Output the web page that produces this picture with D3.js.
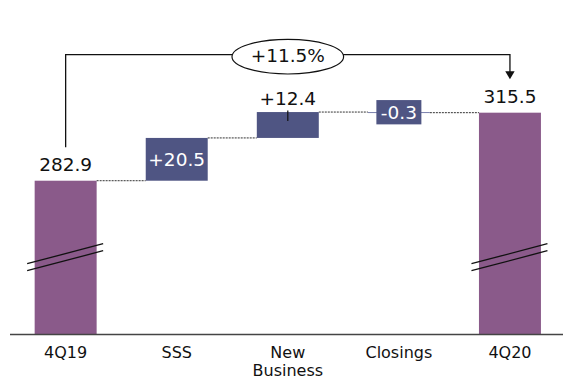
<!DOCTYPE html>
<html>
<head>
<meta charset="utf-8">
<script src="https://cdn.jsdelivr.net/npm/d3@7"></script>
<style>
  html, body { margin: 0; padding: 0; background: #ffffff; }
  svg { display: block; }
  text { font-family: "DejaVu Sans", sans-serif; }
</style>
</head>
<body>
<svg id="chart" width="563" height="381"></svg>
<script>
// ---- data ----
const categories = ["4Q19", "SSS", "New Business", "Closings", "4Q20"];
const values = [282.9, 20.5, 12.4, -0.3, 315.5];
const kinds = ["total", "delta", "delta", "delta", "total"];
const valueLabels = ["282.9", "+20.5", "+12.4", "-0.3", "315.5"];
const growthLabel = "+11.5%";
const axisFloor = 209.2;   // value at the (broken) baseline
const axisTop = 369.5;
const breakValue = 246;    // where the axis-break marks sit

// ---- layout ----
const W = 563, H = 381;
const baseY = 334.5;
const svg = d3.select("#chart");

const x = d3.scaleBand()
  .domain(categories)
  .range([10, 565.6])
  .paddingInner(0.442)
  .paddingOuter(0.222);

const y = d3.scaleLinear()
  .domain([axisFloor, axisTop])
  .range([baseY, 0]);

const PURPLE = "#8a5a8a";
const BLUE = "#4f5583";

// compute waterfall segments
let running = 0;
const bars = categories.map((c, i) => {
  let start, end;
  if (kinds[i] === "total") { start = axisFloor; end = values[i]; running = values[i]; }
  else { start = running; end = running + values[i]; running = end; }
  return { cat: c, start, end, kind: kinds[i], label: valueLabels[i], i };
});

// connectors (dotted)
const conn = svg.append("g");
for (let i = 0; i < bars.length - 1; i++) {
  const b = bars[i], nb = bars[i + 1];
  const level = b.end;
  conn.append("line")
    .attr("x1", x(b.cat) + x.bandwidth())
    .attr("x2", x(nb.cat))
    .attr("y1", y(level)).attr("y2", y(level))
    .attr("stroke", "#333").attr("stroke-width", 1)
    .attr("stroke-dasharray", "2,1");
}

// bars
svg.append("g").selectAll("rect")
  .data(bars)
  .join("rect")
  .attr("x", d => x(d.cat))
  .attr("width", x.bandwidth())
  .attr("y", d => y(Math.max(d.start, d.end)))
  .attr("height", d => Math.max(1, Math.abs(y(d.start) - y(d.end))))
  .attr("fill", d => d.kind === "total" ? PURPLE : (Math.abs(y(d.start) - y(d.end)) < 2 ? "#7a80ac" : BLUE));

// break marks on total bars
bars.filter(d => d.kind === "total").forEach(d => {
  const yb = y(breakValue);
  const x0 = x(d.cat) - 7.5, x1 = x(d.cat) + x.bandwidth() + 6.5;
  [0, 7].forEach(off => {
    svg.append("line")
      .attr("x1", x0).attr("y1", yb + 6 + off)
      .attr("x2", x1).attr("y2", yb - 14 + off)
      .attr("stroke", "#111").attr("stroke-width", 1.3);
  });
});

// axis baseline
svg.append("line")
  .attr("x1", 10).attr("x2", W)
  .attr("y1", baseY).attr("y2", baseY)
  .attr("stroke", "#444").attr("stroke-width", 1.3);

// category labels
const catG = svg.append("g");
categories.forEach(c => {
  const words = c === "New Business" ? ["New", "Business"] : [c];
  const t = catG.append("text")
    .attr("x", x(c) + x.bandwidth() / 2)
    .attr("y", 357.5)
    .attr("text-anchor", "middle")
    .attr("font-size", 16)
    .attr("fill", "#111");
  words.forEach((w, k) => {
    t.append("tspan")
      .attr("x", x(c) + x.bandwidth() / 2)
      .attr("dy", k === 0 ? 0 : 18.6)
      .text(w);
  });
});

// value labels
bars.forEach(d => {
  const cx = x(d.cat) + x.bandwidth() / 2;
  if (d.kind === "total") {
    svg.append("text")
      .attr("x", cx).attr("y", y(d.end) - 9.5)
      .attr("text-anchor", "middle").attr("font-size", 18.5)
      .attr("fill", "#111").text(d.label);
  } else if (d.cat === "SSS") {
    svg.append("text")
      .attr("x", cx).attr("y", (y(d.start) + y(d.end)) / 2 + 7)
      .attr("text-anchor", "middle").attr("font-size", 18.5)
      .attr("fill", "#ffffff").text(d.label);
  } else if (d.cat === "New Business") {
    const top = y(d.end);
    svg.append("line")
      .attr("x1", cx).attr("x2", cx)
      .attr("y1", top - 1.5).attr("y2", top + 9)
      .attr("stroke", "#111").attr("stroke-width", 1.2);
    svg.append("text")
      .attr("x", cx).attr("y", top - 7)
      .attr("text-anchor", "middle").attr("font-size", 18.5)
      .attr("fill", "#111").text(d.label);
  } else {
    const my = (y(d.start) + y(d.end)) / 2;
    svg.append("rect")
      .attr("x", cx - 22.5).attr("width", 45)
      .attr("y", my - 12.3).attr("height", 24.3)
      .attr("fill", BLUE);
    svg.append("text")
      .attr("x", cx).attr("y", my + 7)
      .attr("text-anchor", "middle").attr("font-size", 18.5)
      .attr("fill", "#ffffff").text(d.label);
  }
});

// growth bracket
const first = bars[0], last = bars[bars.length - 1];
const fx = x(first.cat) + x.bandwidth() / 2;
const lx = x(last.cat) + x.bandwidth() / 2;
const bracketY = 54.7;
const startY = y(first.end) - 33.5;
const tipY = y(last.end) - 33.4;
svg.append("path")
  .attr("d", `M${fx},${startY} V${bracketY} H${lx} V${tipY - 7}`)
  .attr("fill", "none").attr("stroke", "#111").attr("stroke-width", 1.3);
svg.append("path")
  .attr("d", `M${lx - 4.7},${tipY - 8} L${lx + 4.7},${tipY - 8} L${lx},${tipY} Z`)
  .attr("fill", "#111");
const ex = (fx + lx) / 2;
svg.append("ellipse")
  .attr("cx", ex).attr("cy", 56.7)
  .attr("rx", 55.8).attr("ry", 17.3)
  .attr("fill", "#fff").attr("stroke", "#111").attr("stroke-width", 1.2);
svg.append("text")
  .attr("x", ex).attr("y", 62)
  .attr("text-anchor", "middle").attr("font-size", 18.5)
  .attr("fill", "#111").text(growthLabel);
</script>
</body>
</html>
